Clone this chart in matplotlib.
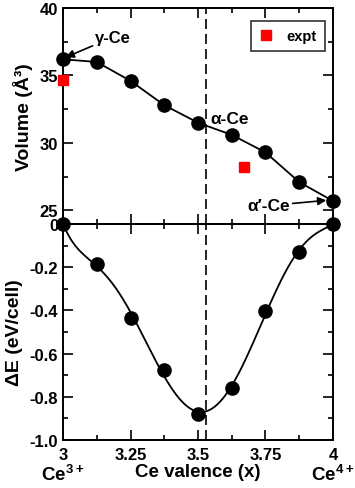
import numpy as np
import matplotlib.pyplot as plt
from matplotlib.ticker import MultipleLocator

plt.rcParams['font.family'] = ['Liberation Sans', 'DejaVu Sans']
plt.rcParams['font.weight'] = 'bold'
plt.rcParams['axes.labelweight'] = 'bold'
plt.rcParams['mathtext.fontset'] = 'custom'
plt.rcParams['mathtext.bf'] = 'Liberation Sans:bold'
plt.rcParams['mathtext.rm'] = 'Liberation Sans:bold'

# Ce valence and calculated results
valence = [3.0, 3.125, 3.25, 3.375, 3.5, 3.625, 3.75, 3.875, 4.0]
volume = [36.2, 36.0, 34.6, 32.8, 31.5, 30.6, 29.3, 27.1, 25.7]
energy = [0.0, -0.185, -0.435, -0.674, -0.881, -0.761, -0.401, -0.128, 0.0]

# experiment
expt_valence = [3.0, 3.67]
expt_volume = [34.7, 28.2]

x_cross = 3.53

fig = plt.figure(figsize=(3.55, 4.89), dpi=100)
ax1 = fig.add_axes([0.1775, 0.54, 0.7605, 0.4416])
ax2 = fig.add_axes([0.1775, 0.0982, 0.7605, 0.4418])

ax1.plot(valence, volume, '-o', color='black', lw=1.3, ms=9.5, zorder=3,
         clip_on=False)
ax1.plot(expt_valence, expt_volume, 's', color='red', ms=6.5, ls='none',
         label='expt', clip_on=False, zorder=4)
ax1.axvline(x_cross, color='black', ls=(0, (6, 3)), lw=1.2)
ax1.set_xlim(3, 4)
ax1.set_ylim(24, 40)
ax1.yaxis.set_major_locator(MultipleLocator(5))
ax1.yaxis.set_minor_locator(MultipleLocator(2.5))
ax1.set_yticks([25, 30, 35, 40])
ax1.set_ylabel('Volume (Å³)', fontsize=14, labelpad=5)
leg = ax1.legend(loc='upper right', fontsize=10.5, frameon=True, fancybox=False,
                 edgecolor='black', handletextpad=0.9, borderpad=0.55,
                 handlelength=1.0, borderaxespad=0, bbox_to_anchor=(0.97, 0.94))
leg.get_frame().set_linewidth(1.2)

ax1.annotate('γ-Ce', xy=(3.01, 36.35), xytext=(3.12, 37.85), fontsize=12,
             va='center', ha='left',
             arrowprops=dict(arrowstyle='-|>', color='black', lw=1.2,
                             mutation_scale=12, shrinkA=0, shrinkB=0))
ax1.text(3.545, 31.8, 'α-Ce', fontsize=12.5, va='center', ha='left')
ax1.annotate('α′-Ce', xy=(3.975, 25.75), xytext=(3.84, 25.35), fontsize=12.5,
             va='center', ha='right',
             arrowprops=dict(arrowstyle='-|>', color='black', lw=1.2,
                             mutation_scale=12, shrinkA=0, shrinkB=0))

# smooth fit through energies
coef = np.polyfit(valence, energy, 6)
xs = np.linspace(3, 4, 300)
ax2.plot(xs, np.polyval(coef, xs), color='black', lw=1.3)
ax2.plot(valence, energy, 'o', color='black', ms=9.5, clip_on=False, zorder=3)
ax2.axhline(0, color='black', lw=1.2)
ax2.axvline(x_cross, color='black', ls=(0, (6, 3)), lw=1.2)
ax2.set_xlim(3, 4)
ax2.set_ylim(-1.0, 0.0)
ax2.yaxis.set_major_locator(MultipleLocator(0.2))
ax2.yaxis.set_minor_locator(MultipleLocator(0.1))
ax2.set_yticks([-1.0, -0.8, -0.6, -0.4, -0.2, 0.0])
ax2.set_yticklabels(['-1.0', '-0.8', '-0.6', '-0.4', '-0.2', '0'])
ax2.set_ylabel('ΔE (eV/cell)', fontsize=14, labelpad=5)
ax2.set_xlabel('Ce valence (x)', fontsize=13.5, va='top')
ax2.xaxis.set_label_coords(0.5, -0.105)
ax2.text(3.0, -1.183, r'$\mathbf{Ce^{3+}}$', fontsize=13.5, ha='center', va='baseline')
ax2.text(4.0, -1.183, r'$\mathbf{Ce^{4+}}$', fontsize=13.5, ha='center', va='baseline')

for ax in (ax1, ax2):
    ax.xaxis.set_major_locator(MultipleLocator(0.25))
    ax.xaxis.set_minor_locator(MultipleLocator(0.125))
    ax.tick_params(which='both', direction='in', top=True, right=True,
                   labelsize=12, width=1.2)
    ax.tick_params(which='major', length=7)
    ax.tick_params(which='minor', length=3.5)
    ax.tick_params(axis='x', pad=5)
    for s in ax.spines.values():
        s.set_linewidth(1.4)
ax1.tick_params(labelbottom=False)
ax2.set_xticks([3, 3.25, 3.5, 3.75, 4])
ax2.set_xticklabels(['3', '3.25', '3.5', '3.75', '4'])

fig.savefig('out.png', dpi=100)
